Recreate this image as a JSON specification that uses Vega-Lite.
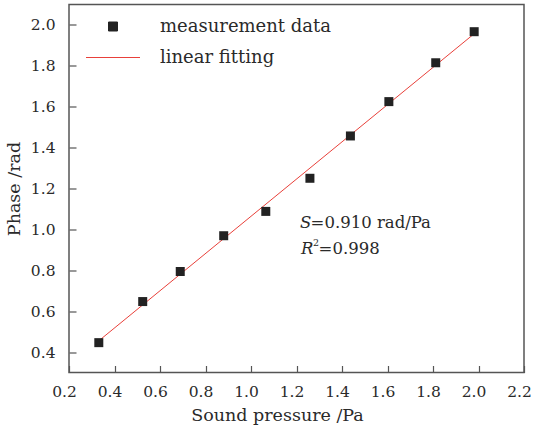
{
  "$schema": "https://vega.github.io/schema/vega-lite/v6.json",
  "width": 455,
  "height": 368,
  "autosize": {"type": "none"},
  "padding": {"left": 69, "top": 4.5, "right": 11, "bottom": 60.5},
  "background": "white",
  "config": {
    "font": "DejaVu Serif",
    "view": {"stroke": "#555555", "strokeWidth": 1.5},
    "axis": {
      "grid": false,
      "domain": false,
      "tickSize": -7,
      "tickColor": "#555555",
      "tickWidth": 1.2,
      "labelFont": "DejaVu Serif",
      "labelFontSize": 15.5,
      "labelColor": "#2a2a2a",
      "titleFont": "DejaVu Serif",
      "titleFontSize": 17.5,
      "titleFontWeight": "normal",
      "titleColor": "#2a2a2a"
    }
  },
  "datasets": {
    "points": [
      {"p": 0.331, "phase": 0.446},
      {"p": 0.524, "phase": 0.647},
      {"p": 0.689, "phase": 0.794},
      {"p": 0.880, "phase": 0.969},
      {"p": 1.065, "phase": 1.088},
      {"p": 1.259, "phase": 1.250},
      {"p": 1.437, "phase": 1.457},
      {"p": 1.606, "phase": 1.625},
      {"p": 1.812, "phase": 1.815},
      {"p": 1.981, "phase": 1.967}
    ],
    "fit": [
      {"p": 0.331, "phase": 0.455},
      {"p": 1.981, "phase": 1.957}
    ],
    "italic": [
      {"p": 1.215, "phase": 1.008, "t": "S"},
      {"p": 1.22, "phase": 0.878, "t": "R"}
    ],
    "plain": [
      {"p": 1.262, "phase": 1.008, "t": "=0.910 rad/Pa"},
      {"p": 1.297, "phase": 0.878, "t": "=0.998"}
    ],
    "sup": [
      {"p": 1.272, "phase": 0.92, "t": "2"}
    ]
  },
  "layer": [
    {
      "data": {"name": "fit"},
      "mark": {"type": "line", "strokeWidth": 1},
      "encoding": {
        "x": {"field": "p", "type": "quantitative", "scale": {"domain": [0.2, 2.2], "nice": false, "zero": false},
              "axis": {"title": "Sound pressure /Pa", "values": [0.2, 0.4, 0.6, 0.8, 1.0, 1.2, 1.4, 1.6, 1.8, 2.0, 2.2], "format": ".1f", "labelPadding": 19, "labelOffset": -5, "titlePadding": 6, "titleX": 208, "titleAlign": "center", "labelFlush": false}},
        "y": {"field": "phase", "type": "quantitative", "scale": {"domain": [0.3, 2.1], "nice": false, "zero": false},
              "axis": {"title": "Phase /rad", "values": [0.4, 0.6, 0.8, 1.0, 1.2, 1.4, 1.6, 1.8, 2.0], "format": ".1f", "labelPadding": 21, "titlePadding": 7, "labelFlush": false}},
        "color": {
          "datum": "linear fitting",
          "type": "nominal",
          "scale": {"domain": ["measurement data", "linear fitting"], "range": ["#222222", "#e8403a"]},
          "legend": {
            "title": null,
            "orient": "none",
            "legendX": 35,
            "legendY": 13,
            "padding": 0,
            "labelFont": "DejaVu Serif",
            "labelFontSize": 18,
            "labelColor": "#2a2a2a",
            "labelLimit": 0,
            "symbolSize": 2916,
            "labelOffset": 38,
            "rowPadding": 13,
            "encode": {
              "symbols": {
                "update": {
                  "shape": {"signal": "datum.value === 'linear fitting' ? 'stroke' : 'square'"},
                  "size": {"signal": "datum.value === 'linear fitting' ? 2916 : 81"},
                  "fill": {"signal": "datum.value === 'linear fitting' ? 'transparent' : '#222222'"},
                  "stroke": {"signal": "datum.value === 'linear fitting' ? '#e8403a' : 'transparent'"},
                  "strokeWidth": {"value": 1},
                  "opacity": {"value": 1}
                }
              }
            }
          }
        }
      }
    },
    {
      "data": {"name": "points"},
      "mark": {"type": "point", "shape": "square", "filled": true, "size": 81, "opacity": 1},
      "encoding": {
        "x": {"field": "p", "type": "quantitative"},
        "y": {"field": "phase", "type": "quantitative"},
        "color": {"datum": "measurement data", "type": "nominal"}
      }
    },
    {
      "data": {"name": "italic"},
      "mark": {"type": "text", "font": "DejaVu Serif", "fontStyle": "italic", "fontSize": 16.5, "align": "left", "baseline": "alphabetic", "color": "#2a2a2a"},
      "encoding": {
        "x": {"field": "p", "type": "quantitative"},
        "y": {"field": "phase", "type": "quantitative"},
        "text": {"field": "t"}
      }
    },
    {
      "data": {"name": "plain"},
      "mark": {"type": "text", "font": "DejaVu Serif", "fontSize": 16.5, "align": "left", "baseline": "alphabetic", "color": "#2a2a2a"},
      "encoding": {
        "x": {"field": "p", "type": "quantitative"},
        "y": {"field": "phase", "type": "quantitative"},
        "text": {"field": "t"}
      }
    },
    {
      "data": {"name": "sup"},
      "mark": {"type": "text", "font": "DejaVu Serif", "fontSize": 9.5, "align": "left", "baseline": "alphabetic", "color": "#2a2a2a"},
      "encoding": {
        "x": {"field": "p", "type": "quantitative"},
        "y": {"field": "phase", "type": "quantitative"},
        "text": {"field": "t"}
      }
    }
  ]
}
